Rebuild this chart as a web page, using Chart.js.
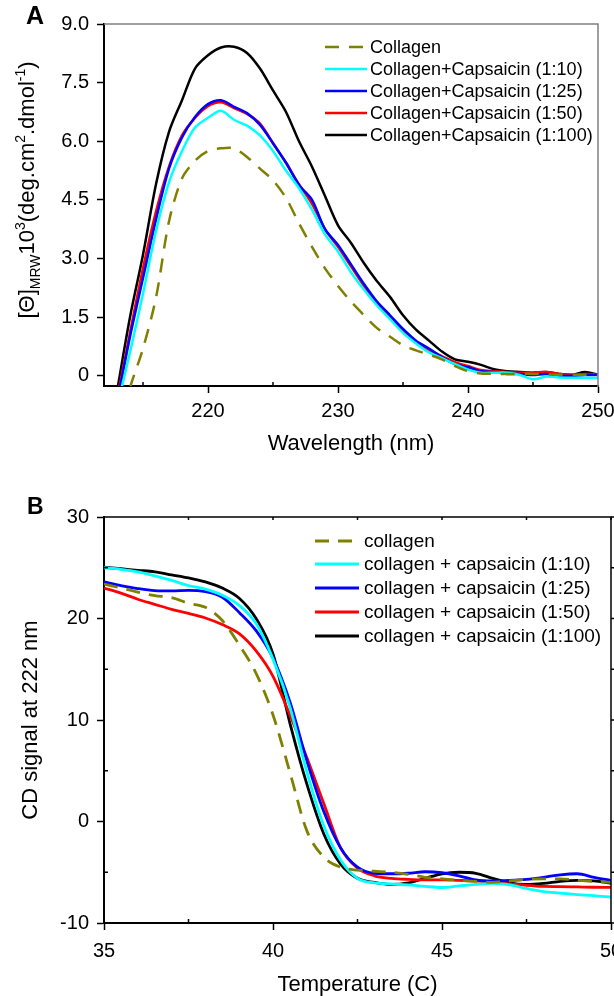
<!DOCTYPE html>
<html><head><meta charset="utf-8">
<script src="https://cdn.jsdelivr.net/npm/chart.js@4.4.1/dist/chart.umd.min.js"></script>
<style>
html,body{margin:0;padding:0;background:#fff;width:614px;height:996px;overflow:hidden;position:relative;}
canvas{position:absolute;left:0;}
#ca{top:0;}
#cb{top:480px;}
.lbl{position:absolute;font-family:"Liberation Sans",Arial,sans-serif;font-weight:bold;line-height:1;color:#000;}
</style></head><body>
<canvas id="ca" width="614" height="470"></canvas>
<canvas id="cb" width="614" height="516"></canvas>
<div class="lbl" style="left:26px;top:3px;font-size:25px">A</div>
<div class="lbl" style="left:27px;top:495px;font-size:23px">B</div>
<script>
// ---------- Panel A data ----------
const wavelengthNm = [213,214,215,216,217,218,219,220,221,222,223,224,225,226,227,228,229,230,231,232,233,234,235,236,237,238,239,240,241,242,243,244,245,246,247,248,249,250];
const collagenA = [-1.5,-0.3,0.7,2.0,3.95,5.05,5.5,5.75,5.82,5.82,5.6,5.3,5.0,4.55,3.9,3.3,2.75,2.3,1.9,1.55,1.22,1.0,0.78,0.65,0.54,0.42,0.25,0.12,0.06,0.05,0.05,0.05,0.05,0.04,0.03,0.03,0.03,0.02];
const cap10A = [-0.8,0.6,2.1,3.7,4.95,5.75,6.35,6.6,6.78,6.55,6.4,6.15,5.75,5.25,4.8,4.25,3.62,3.18,2.65,2.2,1.8,1.45,1.1,0.83,0.6,0.45,0.3,0.16,0.08,0.08,0.08,0.02,-0.09,-0.02,-0.04,-0.05,-0.05,-0.06];
const cap25A = [-0.7,1.0,2.5,4.0,5.3,6.1,6.62,6.95,7.05,6.88,6.72,6.42,5.95,5.45,4.88,4.5,3.75,3.35,2.85,2.35,1.9,1.55,1.2,0.9,0.7,0.48,0.3,0.22,0.12,0.1,0.05,0.05,0.02,0.05,0.0,0.0,0.02,0.02];
const cap50A = [-0.6,1.1,2.75,4.2,5.35,6.15,6.6,6.9,7.0,6.85,6.7,6.45,5.95,5.45,4.9,4.4,3.75,3.3,2.8,2.3,1.85,1.5,1.15,0.85,0.65,0.5,0.35,0.25,0.15,0.12,0.1,0.08,0.08,0.1,0.05,0.02,0.05,0.03];
const cap100A = [-0.4,1.5,3.1,4.9,6.24,7.05,7.86,8.2,8.4,8.42,8.26,7.86,7.3,6.75,6.0,5.35,4.6,3.85,3.4,2.88,2.42,2.02,1.55,1.18,0.9,0.62,0.42,0.36,0.28,0.17,0.12,0.1,0.08,0.1,0.05,0.03,0.1,0.03];
const labelsA = ['Collagen','Collagen+Capsaicin (1:10)','Collagen+Capsaicin (1:25)','Collagen+Capsaicin (1:50)','Collagen+Capsaicin (1:100)'];
const xTicksA = [220,230,240,250];
const xMinorA = [215,225,235,245];
const yTicksA = [0,1.5,3,4.5,6,7.5,9];

// ---------- Panel B data ----------
const temperatureC = [35,35.5,36,36.5,37,37.5,38,38.5,39,39.5,40,40.5,41,41.5,42,42.5,43,43.5,44,44.5,45,45.5,46,46.5,47,47.5,48,48.5,49,49.5,50];
const collagenB = [23.4,23.0,22.6,22.25,22.05,21.5,21.1,19.8,17.4,14.6,10.5,4.85,-0.9,-3.5,-4.5,-4.8,-4.9,-5.0,-5.2,-5.5,-5.65,-5.8,-5.9,-6.0,-5.85,-5.7,-5.65,-5.65,-5.8,-5.9,-6.0];
const cap10B = [25.0,24.85,24.6,24.2,23.75,23.25,22.9,22.3,21.3,19.5,16.0,11.3,4.9,-0.4,-3.8,-5.6,-6.05,-6.15,-6.25,-6.4,-6.5,-6.35,-6.2,-6.1,-6.25,-6.6,-6.9,-7.05,-7.2,-7.3,-7.45];
const cap25B = [23.6,23.25,22.95,22.75,22.72,22.78,22.65,22.1,20.6,18.8,16.1,11.8,6.0,1.0,-2.6,-4.5,-5.1,-5.15,-5.1,-4.95,-5.05,-5.35,-5.75,-5.85,-5.8,-5.7,-5.5,-5.25,-5.15,-5.5,-5.8];
const cap50B = [23.0,22.5,21.9,21.4,20.9,20.5,20.05,19.4,18.5,16.8,14.3,10.5,6.3,1.8,-2.6,-4.6,-5.35,-5.6,-5.7,-5.75,-5.75,-5.8,-5.85,-6.0,-6.15,-6.3,-6.4,-6.42,-6.45,-6.48,-6.5];
const cap100B = [25.05,24.9,24.75,24.6,24.3,24.0,23.6,23.0,22.0,20.0,16.5,9.7,3.7,-1.2,-4.2,-5.6,-6.0,-6.2,-6.05,-5.6,-5.15,-5.0,-5.1,-5.6,-6.05,-6.2,-6.1,-5.9,-5.8,-5.85,-6.1];
const labelsB = ['collagen','collagen + capsaicin (1:10)','collagen + capsaicin (1:25)','collagen + capsaicin (1:50)','collagen + capsaicin (1:100)'];
const xTicksB = [35,40,45,50];
const xMinorB = [37.5,42.5,47.5];
const yTicksB = [-10,0,10,20,30];
const yMinorB = [-5,5,15,25];

const colors = ['#808000','#00ffff','#0000ff','#ff0000','#000000'];
const FONT = '"Liberation Sans", Arial, sans-serif';

function makeSets(xs, series, labels, width, dash) {
  return series.map((s, k) => ({
    label: labels[k],
    data: xs.map((x, i) => ({x: x, y: s[i]})),
    borderColor: colors[k],
    backgroundColor: colors[k],
    borderWidth: width,
    borderDash: k === 0 ? dash : [],
    pointRadius: 0,
    fill: false
  }));
}

const deco = {
  id: 'deco',
  afterDraw(chart, args, o) {
    const {ctx, chartArea: a, scales} = chart;
    const x = scales.x, y = scales.y;
    ctx.save();
    // frame top/right
    ctx.strokeStyle = o.frameColor; ctx.lineWidth = o.frameWidth;
    ctx.beginPath(); ctx.moveTo(a.left, a.top); ctx.lineTo(a.right, a.top); ctx.lineTo(a.right, a.bottom + 1); ctx.stroke();
    // ticks
    ctx.strokeStyle = '#000'; ctx.lineWidth = 1.5;
    (o.xMinor || []).forEach(v => { const p = x.getPixelForValue(v); ctx.beginPath(); ctx.moveTo(p, a.bottom); ctx.lineTo(p, a.bottom - 4); ctx.stroke(); });
    (o.topTicks || []).forEach(v => { const p = x.getPixelForValue(v); ctx.beginPath(); ctx.moveTo(p, a.top); ctx.lineTo(p, a.top + 3); ctx.stroke(); });
    (o.yMinor || []).forEach(v => { const p = y.getPixelForValue(v); ctx.beginPath(); ctx.moveTo(a.left, p); ctx.lineTo(a.left + 4, p); ctx.stroke(); });
    (o.rightTicks || []).forEach(v => { const p = y.getPixelForValue(v); ctx.beginPath(); ctx.moveTo(a.right, p); ctx.lineTo(a.right + 4, p); ctx.stroke(); });
    // legend
    const L = o.legend;
    ctx.font = L.size + 'px ' + FONT; ctx.textBaseline = 'middle'; ctx.textAlign = 'left'; ctx.fillStyle = '#000';
    chart.data.datasets.forEach((d, i) => {
      const yy = L.ys[i];
      ctx.strokeStyle = d.borderColor; ctx.lineWidth = d.borderWidth; ctx.setLineDash(d.borderDash || []);
      ctx.beginPath(); ctx.moveTo(L.x0, yy); ctx.lineTo(L.x1, yy); ctx.stroke();
      ctx.setLineDash([]);
      ctx.fillText(d.label, L.tx, yy + 1);
    });
    // custom rotated y title with sub/superscripts
    if (o.yTitle) {
      const T = o.yTitle, fs = T.size, ss = Math.round(fs * 0.62);
      const segs = T.segs;
      let total = 0;
      segs.forEach(s => { ctx.font = (s.k ? ss : fs) + 'px ' + FONT; s.w = ctx.measureText(s.t).width; total += s.w; });
      ctx.translate(T.cx, T.cy); ctx.rotate(-Math.PI / 2);
      ctx.textBaseline = 'alphabetic'; ctx.fillStyle = '#000';
      let px = -total / 2;
      const base = fs * 0.36;
      segs.forEach(s => {
        ctx.font = (s.k ? ss : fs) + 'px ' + FONT;
        const dy = s.k === 'sub' ? fs * 0.28 : (s.k === 'sup' ? -fs * 0.42 : 0);
        ctx.fillText(s.t, px, base + dy);
        px += s.w;
      });
    }
    ctx.restore();
  }
};

function axisCommon() {
  return {
    grid: {drawOnChartArea: false, drawTicks: true, tickLength: 7, tickWidth: 1.5, tickColor: '#000'},
    border: {display: true, color: '#000', width: 2}
  };
}

// ---------- Chart A ----------
new Chart(document.getElementById('ca'), {
  type: 'line',
  data: {datasets: makeSets(wavelengthNm, [collagenA, cap10A, cap25A, cap50A, cap100A], labelsA, 2.5, [14, 10])},
  options: {
    responsive: false, animation: false, events: [],
    layout: {padding: {left: 0, right: 16, top: 24, bottom: 0}},
    elements: {line: {tension: 0.3}},
    plugins: {
      legend: {display: false}, tooltip: {enabled: false},
      deco: {
        frameColor: '#808080', frameWidth: 1.5,
        xMinor: xMinorA,
        legend: {x0: 325, x1: 367, tx: 370, ys: [47, 69, 91, 113, 135], size: 18},
        yTitle: {cx: 26, cy: 190, size: 22, segs: [
          {t: '[\u0398]'}, {t: 'MRW', k: 'sub'}, {t: '10'}, {t: '3', k: 'sup'}, {t: '(deg.cm'}, {t: '2', k: 'sup'},
          {t: '.dmol'}, {t: '-1', k: 'sup'}, {t: ')'}]}
      }
    },
    scales: {
      x: Object.assign(axisCommon(), {
        type: 'linear', min: 212, max: 250,
        afterBuildTicks: s => { s.ticks = xTicksA.map(v => ({value: v})); },
        afterFit: s => { s.height = 84; s.paddingLeft = 0; s.paddingRight = 0; },
        ticks: {font: {family: FONT, size: 20, lineHeight: 1}, color: '#000', padding: 8, maxRotation: 0, autoSkip: false, callback: v => String(v)},
        title: {display: true, text: 'Wavelength (nm)', color: '#000', font: {family: FONT, size: 22, lineHeight: 1}, padding: {top: 0, bottom: 15}}
      }),
      y: Object.assign(axisCommon(), {
        type: 'linear', min: -0.26, max: 9,
        afterBuildTicks: s => { s.ticks = yTicksA.map(v => ({value: v})); },
        afterFit: s => { s.width = 104; s.paddingTop = 0; s.paddingBottom = 0; },
        ticks: {font: {family: FONT, size: 20, lineHeight: 1}, color: '#000', padding: 8, autoSkip: false, callback: v => v === 0 ? '0' : v.toFixed(1)}
      })
    }
  },
  plugins: [deco]
});

// ---------- Chart B ----------
new Chart(document.getElementById('cb'), {
  type: 'line',
  data: {datasets: makeSets(temperatureC, [collagenB, cap10B, cap25B, cap50B, cap100B], labelsB, 2.8, [14, 9])},
  options: {
    responsive: false, animation: false, events: [],
    layout: {padding: {left: 0, right: 3, top: 37, bottom: 0}},
    elements: {line: {cubicInterpolationMode: 'monotone'}},
    plugins: {
      legend: {display: false}, tooltip: {enabled: false},
      deco: {
        frameColor: '#000', frameWidth: 1.5,
        xMinor: xMinorB, topTicks: xMinorB.concat(xTicksB), yMinor: yMinorB, rightTicks: yMinorB.concat(yTicksB),
        legend: {x0: 315, x1: 359, tx: 364, ys: [61, 84, 108, 132, 156], size: 19}
      }
    },
    scales: {
      x: Object.assign(axisCommon(), {
        type: 'linear', min: 35, max: 50,
        afterBuildTicks: s => { s.ticks = xTicksB.map(v => ({value: v})); },
        afterFit: s => { s.height = 73; s.paddingLeft = 0; s.paddingRight = 0; },
        ticks: {font: {family: FONT, size: 20, lineHeight: 1}, color: '#000', padding: 11, maxRotation: 0, autoSkip: false, callback: v => String(v)},
        title: {display: true, text: 'Temperature (C)', color: '#000', font: {family: FONT, size: 22, lineHeight: 1}, padding: {top: 0, bottom: 0}}
      }),
      y: Object.assign(axisCommon(), {
        type: 'linear', min: -10, max: 30,
        afterBuildTicks: s => { s.ticks = yTicksB.map(v => ({value: v})); },
        afterFit: s => { s.width = 104; s.paddingTop = 0; s.paddingBottom = 0; },
        ticks: {font: {family: FONT, size: 20, lineHeight: 1}, color: '#000', padding: 8, autoSkip: false, callback: v => String(v)},
        title: {display: true, text: 'CD signal at 222 nm', color: '#000', font: {family: FONT, size: 22, lineHeight: 1}, padding: {top: 20, bottom: 0}}
      })
    }
  },
  plugins: [deco]
});
</script>
</body></html>
